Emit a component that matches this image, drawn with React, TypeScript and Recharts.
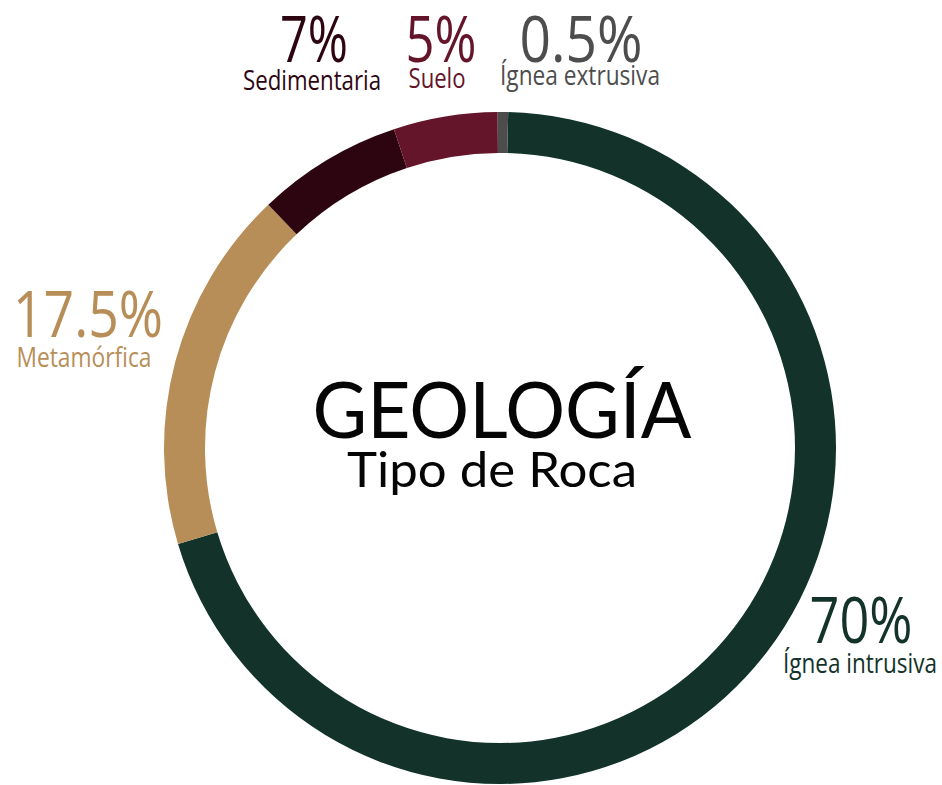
import React from "react";
import { PieChart, Pie, Cell, Label } from "recharts";

// rock types, clockwise from 12 o'clock
const categories = ["Ígnea intrusiva", "Metamórfica", "Sedimentaria", "Suelo", "Ígnea extrusiva"];
const shares = [70, 17.5, 7, 5, 0.5];
const shareLabels = ["70%", "17.5%", "7%", "5%", "0.5%"];
const colors = ["#12322a", "#b88e58", "#2d0511", "#651529", "#4d4d4d"];

const title = "GEOLOGÍA";
const subtitle = "Tipo de Roca";

const data = categories.map((name, i) => ({ name, value: shares[i] }));

const PIE_CX = 500;
const PIE_CY = 448;

// label placement relative to pie centre (dx, baseline dy of the percentage)
// plus measured text widths
const labelLayout = [
  { dx: 361, dy: 195, pctW: 103, nameDy: 225, nameDx: 360, nameW: 154 },
  { dx: -412, dy: -111, pctW: 150, nameDy: -81, nameDx: -416, nameW: 135 },
  { dx: -186, dy: -386, pctW: 68, nameDy: -358, nameDx: -188, nameW: 138 },
  { dx: -59, dy: -386, pctW: 71, nameDy: -360, nameDx: -63, nameW: 57 },
  { dx: 81, dy: -386, pctW: 123, nameDy: -363, nameDx: 80, nameW: 160 },
];

const LABEL_FONT = "'Open Sans', 'Noto Sans', sans-serif";

const renderLabel = (props: any) => {
  const { index } = props;
  const cx = PIE_CX;
  const cy = PIE_CY;
  const l = labelLayout[index];
  const color = colors[index];
  return (
    <g key={`lbl-${index}`}>
      <text
        x={cx + l.dx}
        y={cy + l.dy}
        textAnchor="middle"
        fill={color}
        fontFamily={LABEL_FONT}
        fontWeight={400}
        fontSize={64}
        textLength={l.pctW}
        lengthAdjust="spacingAndGlyphs"
      >
        {shareLabels[index]}
      </text>
      <text
        x={cx + l.nameDx}
        y={cy + l.nameDy}
        textAnchor="middle"
        fill={color}
        fontFamily={LABEL_FONT}
        fontSize={28}
        textLength={l.nameW}
        lengthAdjust="spacingAndGlyphs"
      >
        {categories[index]}
      </text>
    </g>
  );
};

const CenterTitle = () => (
  <g>
    <text
      x={PIE_CX + 2}
      y={PIE_CY - 10}
      textAnchor="middle"
      fill="#050505"
      fontFamily="Lato, 'Open Sans', sans-serif"
      fontSize={78}
      textLength={379}
      lengthAdjust="spacingAndGlyphs"
    >
      {title}
    </text>
    <text
      x={PIE_CX - 8}
      y={PIE_CY + 39}
      textAnchor="middle"
      fill="#050505"
      fontFamily="Lato, 'Open Sans', sans-serif"
      fontSize={49}
      textLength={290}
      lengthAdjust="spacingAndGlyphs"
    >
      {subtitle}
    </text>
  </g>
);

export default function App() {
  return (
    <div style={{ position: "absolute", top: 0, left: 0, width: 942, height: 785, background: "#fff" }}>
      <PieChart width={942} height={785} margin={{ top: 0, right: 0, bottom: 0, left: 0 }}>
        <Pie
          data={data}
          dataKey="value"
          nameKey="name"
          cx={PIE_CX}
          cy={PIE_CY}
          innerRadius={295}
          outerRadius={336}
          startAngle={88.6}
          endAngle={-271.4}
          stroke="none"
          label={renderLabel}
          labelLine={false}
          isAnimationActive={false}
        >
          {data.map((d, i) => (
            <Cell key={d.name} fill={colors[i]} />
          ))}
          <Label content={<CenterTitle />} position="center" />
        </Pie>
      </PieChart>
    </div>
  );
}
